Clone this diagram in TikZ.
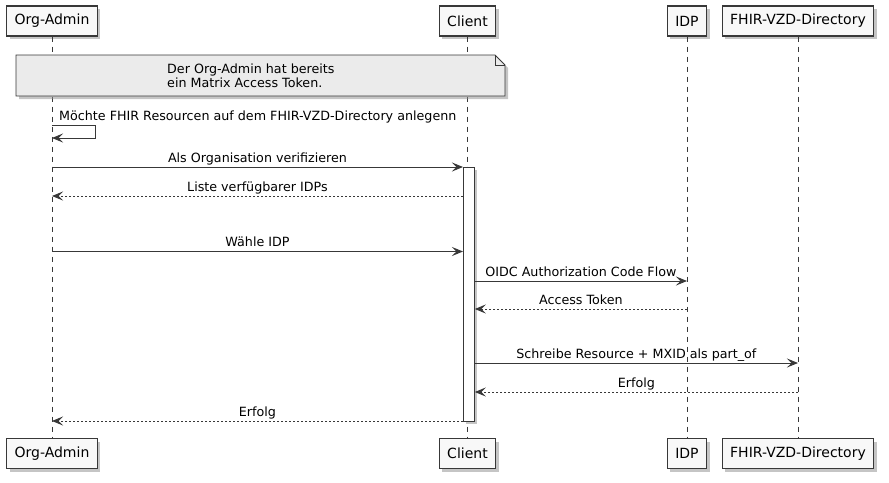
\documentclass[tikz,border=0pt]{standalone}
\usepackage{fontspec}
\setmainfont{DejaVu Sans}
\usetikzlibrary{arrows.meta,shadows}
\definecolor{umlline}{HTML}{383838}
\definecolor{umlbox}{HTML}{F8F8F8}
\definecolor{umlnote}{HTML}{EBEBEB}
\begin{document}
\begin{tikzpicture}[x=1pt,y=-1pt,
  umlshadow/.style={drop shadow={shadow xshift=3pt,shadow yshift=-3pt,fill=black!45,opacity=.5}},
  actor/.style={draw=umlline,line width=1.2pt,fill=umlbox,inner xsep=8pt,minimum height=30pt,
    font=\fontsize{14}{16}\selectfont,umlshadow},
  lifeline/.style={umlline,dash pattern=on 5pt off 5pt,line width=.7pt},
  msg/.style={umlline,line width=1pt,-{Stealth[length=11pt,width=9pt,inset=4.5pt]}},
  reply/.style={msg,dash pattern=on 2pt off 2pt},
  lbl/.style={anchor=base,inner sep=0pt,font=\fontsize{12.7}{15}\selectfont,text=black,yshift=5pt}]
\useasboundingbox (0,0) rectangle (889,482);

% participants
\node[actor] (admin) at (52,21) {Org-Admin};
\node[actor] (client) at (467.5,21) {Client};
\node[actor] (idp) at (687,21) {IDP};
\node[actor] (vzd) at (798,21) {FHIR-VZD-Directory};
\node[actor] (adminB) at (52,453.5) {Org-Admin};
\node[actor] (clientB) at (467.5,453.5) {Client};
\node[actor] (idpB) at (687,453.5) {IDP};
\node[actor] (vzdB) at (798,453.5) {FHIR-VZD-Directory};

% lifelines
\draw[lifeline] (admin) -- (adminB);
\draw[lifeline] (client) -- (clientB);
\draw[lifeline] (idp) -- (idpB);
\draw[lifeline] (vzd) -- (vzdB);

% note
\draw[draw=umlline,line width=.8pt,fill=umlnote,umlshadow]
  (16,55) -- (495,55) -- (505,65) -- (505,96) -- (16,96) -- cycle;
\draw[umlline,line width=.8pt] (495,55) -- (495,65) -- (505,65);
\node[anchor=west,align=left,inner sep=0pt,font=\fontsize{12.7}{14}\selectfont] (note) at (167,75.5)
  {Der Org-Admin hat bereits\\ein Matrix Access Token.};

% message rows
\coordinate (r1) at (0,125);
\coordinate (r1b) at (0,138);
\coordinate (r2) at (0,167);
\coordinate (r3) at (0,196);
\coordinate (r4) at (0,251.5);
\coordinate (r5) at (0,281);
\coordinate (r6) at (0,309);
\coordinate (r7) at (0,363);
\coordinate (r8) at (0,392);
\coordinate (r9) at (0,421);

% activation
\node[draw=umlline,line width=.8pt,fill=white,minimum width=11pt,minimum height=254pt,
  inner sep=0pt,anchor=north west,umlshadow] (act) at (463,167) {};

% messages
\draw[msg] (admin |- r1) -- ++(43,0) |- (admin |- r1b);
\node[lbl,anchor=base west] (m1) at ([xshift=7pt]admin |- r1) {Möchte FHIR Resourcen auf dem FHIR-VZD-Directory anlegenn};
\draw[msg] (admin |- r2) -- (act.west |- r2) node[lbl,midway] (m2) {Als Organisation verifizieren};
\draw[reply] (act.west |- r3) -- (admin |- r3) node[lbl,midway] (m3) {Liste verfügbarer IDPs};
\draw[msg] (admin |- r4) -- (act.west |- r4) node[lbl,midway] (m4) {Wähle IDP};
\draw[msg] (act.east |- r5) -- (idp |- r5) node[lbl,midway] (m5) {OIDC Authorization Code Flow};
\draw[reply] (idp |- r6) -- (act.east |- r6) node[lbl,midway] (m6) {Access Token};
\draw[msg] (act.east |- r7) -- (vzd |- r7) node[lbl,midway] (m7) {Schreibe Resource + MXID als part\_of};
\draw[reply] (vzd |- r8) -- (act.east |- r8) node[lbl,midway] (m8) {Erfolg};
\draw[reply] (act.west |- r9) -- (admin |- r9) node[lbl,midway] (m9) {Erfolg};
\end{tikzpicture}
\end{document}
